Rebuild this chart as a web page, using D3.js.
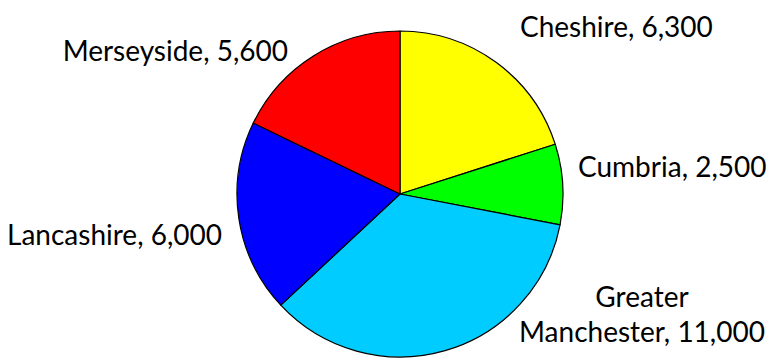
<!DOCTYPE html>
<html><head><meta charset="utf-8">
<script src="https://cdn.jsdelivr.net/npm/d3@7"></script>
<style>html,body{margin:0;padding:0;background:#fff;}svg{display:block;}</style>
</head><body>
<svg id="chart" width="773" height="358"></svg>
<script>
const regions = ["Cheshire", "Cumbria", "Greater Manchester", "Lancashire", "Merseyside"];
const values = [6300, 2500, 11000, 6000, 5600];
const labelLines = [["Cheshire, 6,300"], ["Cumbria, 2,500"], ["Greater", "Manchester, 11,000"], ["Lancashire, 6,000"], ["Merseyside, 5,600"]];
const colors = ["#ffff00", "#00ff00", "#00ccff", "#0000ff", "#ff0000"];

// label layout (anchor point + alignment), separate from data
const labelLayout = [
  {x: 520, y: 37, anchor: "start"},
  {x: 578, y: 177, anchor: "start"},
  {x: 642, y: 307, anchor: "middle"},
  {x: 222, y: 245, anchor: "end"},
  {x: 288, y: 61, anchor: "end"}
];

const svg = d3.select("#chart");
const cx = 400, cy = 194, r = 163;
const pie = d3.pie().sort(null).value(d => d)(values);
const arc = d3.arc().innerRadius(0).outerRadius(r);
const g = svg.append("g").attr("transform", `translate(${cx},${cy})`);
g.selectAll("path").data(pie).enter().append("path")
  .attr("d", arc)
  .attr("fill", (d, i) => colors[i])
  .attr("stroke", "#000").attr("stroke-width", 1.2).attr("stroke-linejoin", "round");

const lineH = 35;
svg.selectAll("text.lbl").data(labelLines).enter().append("text")
  .attr("class", "lbl")
  .attr("x", (d, i) => labelLayout[i].x)
  .attr("y", (d, i) => labelLayout[i].y)
  .attr("text-anchor", (d, i) => labelLayout[i].anchor)
  .attr("font-family", "Lato, 'Open Sans', sans-serif")
  .attr("font-size", 28)
  .attr("fill", "#000")
  .each(function(d, i) {
    d3.select(this).selectAll("tspan").data(d).enter().append("tspan")
      .attr("x", labelLayout[i].x)
      .attr("dy", (t, j) => j === 0 ? 0 : lineH)
      .text(t => t);
  });
</script>
</body></html>
